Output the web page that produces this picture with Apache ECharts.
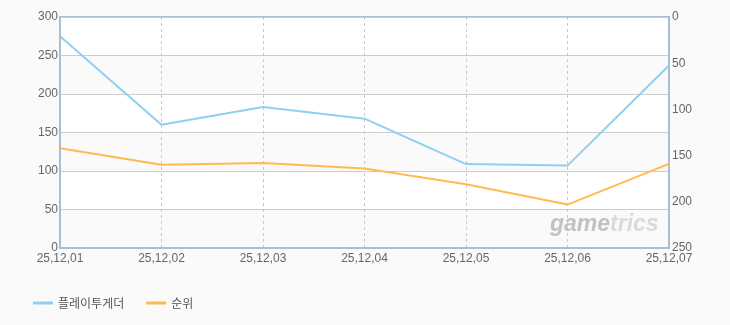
<!DOCTYPE html>
<html><head><meta charset="utf-8">
<script src="https://cdn.jsdelivr.net/npm/echarts@6/dist/echarts.min.js"></script>
<style>html,body{margin:0;padding:0;background:#fafafa}#c{width:730px;height:325px}</style>
</head><body><div id="c"></div>
<script>
const categories = ['25,12,01','25,12,02','25,12,03','25,12,04','25,12,05','25,12,06','25,12,07'];
const playTogether = [275, 160, 183, 168, 109, 107, 237];
const rank = [142, 160, 158, 164, 181, 203, 159];
const seriesNames = ['플레이투게더', '순위'];

const chart = echarts.init(document.getElementById('c'));
const axisColor = '#a9bdd4';
chart.setOption({
  backgroundColor: '#fafafa',
  animation: false,
  textStyle: {fontFamily: 'Noto Sans CJK KR, sans-serif'},
  grid: {left: 60, right: 61, top: 17, bottom: 77, show: true, borderColor: axisColor, borderWidth: 2, backgroundColor: '#fff'},
  legend: {
    left: 28, top: 292, itemWidth: 20, itemHeight: 3, itemGap: 22,
    icon: 'rect',
    textStyle: {color: '#555', fontSize: 12},
    data: seriesNames
  },
  xAxis: {
    type: 'category', data: categories, boundaryGap: false,
    axisLine: {lineStyle: {color: axisColor, width: 2}},
    axisTick: {show: false},
    axisLabel: {color: '#666', fontSize: 12, margin: 5, fontFamily: 'Liberation Sans', interval: 0},
    splitLine: {show: true, lineStyle: {color: '#c8c8c8', type: [3, 3], width: 1}}
  },
  yAxis: [{
    type: 'value', min: 0, max: 300, interval: 50,
    axisLine: {show: true, lineStyle: {color: axisColor, width: 2}},
    axisTick: {show: false},
    axisLabel: {color: '#666', fontSize: 12, margin: 2, fontFamily: 'Liberation Sans'},
    splitLine: {lineStyle: {color: '#cccccc', width: 1}},
    splitArea: {show: true, areaStyle: {color: ['#fafafa', '#ffffff']}}
  }, {
    type: 'value', min: 0, max: 250, interval: 50, inverse: true,
    axisLine: {show: true, lineStyle: {color: axisColor, width: 2}},
    axisTick: {show: false},
    axisLabel: {color: '#666', fontSize: 12, margin: 3, fontFamily: 'Liberation Sans'},
    splitLine: {show: false}
  }],
  graphic: [{
    type: 'text', left: 550, top: 213, z: 1,
    style: {
      text: '{a|game}{b|trics}',
      rich: {
        a: {fontSize: 23, fontWeight: 'bold', fontStyle: 'italic', fill: '#c2c2c2', fontFamily: 'Liberation Sans'},
        b: {fontSize: 23, fontWeight: 'bold', fontStyle: 'italic', fill: '#dadada', fontFamily: 'Liberation Sans'}
      }
    }
  }],
  series: [{
    name: seriesNames[0], type: 'line', data: playTogether, yAxisIndex: 0,
    symbol: 'none', color: '#8fd0f0', lineStyle: {width: 2, color: '#8fd0f0'}, z: 3
  }, {
    name: seriesNames[1], type: 'line', data: rank, yAxisIndex: 1,
    symbol: 'none', color: '#ffba52', lineStyle: {width: 2, color: '#ffba52'}, z: 3
  }]
});
</script></body></html>
